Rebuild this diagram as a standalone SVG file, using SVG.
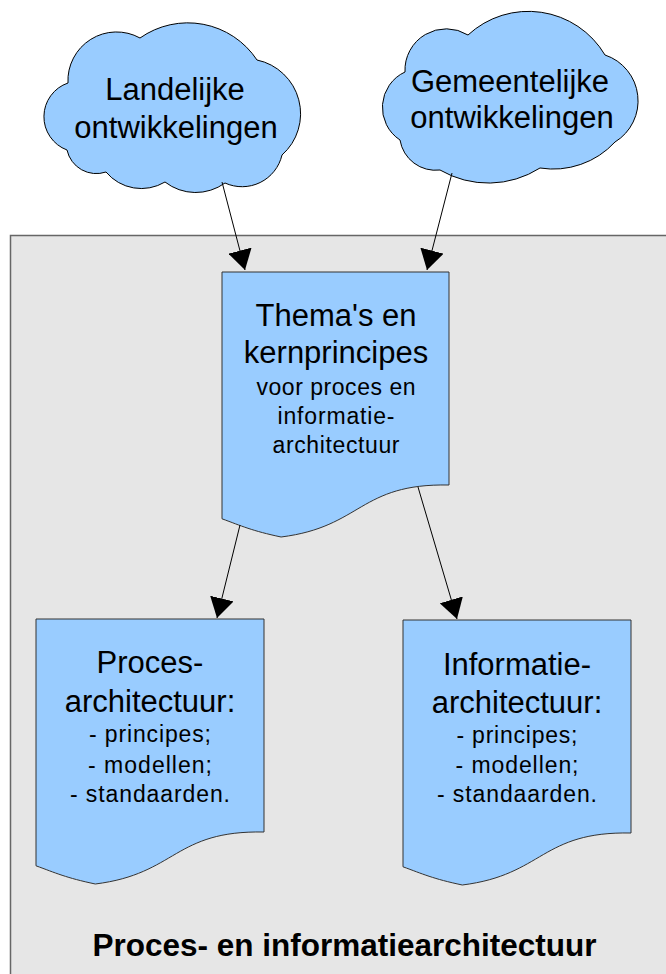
<svg xmlns="http://www.w3.org/2000/svg" width="666" height="974" viewBox="0 0 666 974">
<defs>
<style>
.cloud{fill:#99ccff;stroke:#000;stroke-width:1}
.doc{fill:#99ccff;stroke:#333;stroke-width:1}
.big{font-family:"Liberation Sans",Arial,sans-serif;font-size:31px;fill:#000;text-anchor:middle}
.small{font-family:"Liberation Sans",Arial,sans-serif;font-size:23px;fill:#000;text-anchor:middle}
.title{font-family:"Liberation Sans",Arial,sans-serif;font-size:31.5px;font-weight:bold;fill:#000;text-anchor:middle}
.conn{stroke:#000;stroke-width:1;fill:none;marker-end:url(#arrow)}
</style>
<marker id="arrow" viewBox="0 0 20 24" refX="20" refY="12" markerWidth="20" markerHeight="24" markerUnits="userSpaceOnUse" orient="auto">
<path d="M0,0 L20,12 L0,24 Z" fill="#000"/>
</marker>
</defs>
<g id="container">
<rect x="10.5" y="235.5" width="700" height="800" fill="#e6e6e6" stroke="#666" stroke-width="1.5"/>
<text class="title" x="344.5" y="956">Proces- en informatiearchitectuur</text>
</g>
<g id="cloud-landelijk">
<path class="cloud" d="M68,83 A48.6,48.6 0 0 1 140,38 A83,83 0 0 1 257,60 A55,55 0 0 1 282,155 A41,41 0 0 1 225,183 A50,50 0 0 1 165,182 A46,46 0 0 1 106,172 A30,30 0 0 1 67,150 A35.6,35.6 0 0 1 68,83 Z"/>
<text class="big" x="175" y="100">Landelijke</text>
<text class="big" x="176" y="138">ontwikkelingen</text>
</g>
<g id="cloud-gemeentelijk">
<path class="cloud" d="M405,72 A41.3,41.3 0 0 1 468,35 A89,89 0 0 1 605,55 A48.3,48.3 0 0 1 615,142 A84,84 0 0 1 540,168 A96,96 0 0 1 440,170 A36,36 0 0 1 400,140 A39,39 0 0 1 405,72 Z"/>
<text class="big" x="510" y="92">Gemeentelijke</text>
<text class="big" x="512" y="128">ontwikkelingen</text>
</g>
<g id="thema">
<path class="doc" d="M222,272 H449 V485 C359.2,483.3 362.2,526.8 281.1,537 C252.1,530.9 241.4,525.9 222,518.8 Z"/>
<text class="big" x="336" y="326">Thema's en</text>
<text class="big" x="336" y="363">kernprincipes</text>
<text class="small" x="336" y="395" textLength="159" lengthAdjust="spacing">voor proces en</text>
<text class="small" x="336" y="424" textLength="117" lengthAdjust="spacing">informatie-</text>
<text class="small" x="336" y="453" textLength="127" lengthAdjust="spacing">architectuur</text>
</g>
<g id="proces">
<path class="doc" d="M36,619 H264 V832 C173.8,830.3 176.8,873.8 95.3,884 C66.2,877.9 55.5,872.9 36,865.8 Z"/>
<text class="big" x="150" y="673">Proces-</text>
<text class="big" x="150" y="712">architectuur:</text>
<text class="small" x="150" y="742" textLength="122" lengthAdjust="spacing">- principes;</text>
<text class="small" x="150" y="773" textLength="124" lengthAdjust="spacing">- modellen;</text>
<text class="small" x="150" y="802" textLength="160" lengthAdjust="spacing">- standaarden.</text>
</g>
<g id="informatie">
<path class="doc" d="M403,620 H631 V833 C540.8,831.3 543.8,874.8 462.3,885 C433.2,878.9 422.5,873.9 403,866.8 Z"/>
<text class="big" x="517" y="675">Informatie-</text>
<text class="big" x="517" y="713">architectuur:</text>
<text class="small" x="517" y="743" textLength="121" lengthAdjust="spacing">- principes;</text>
<text class="small" x="517" y="773" textLength="123" lengthAdjust="spacing">- modellen;</text>
<text class="small" x="517" y="802" textLength="160" lengthAdjust="spacing">- standaarden.</text>
</g>
<g id="connectors">
<line class="conn" x1="222" y1="182" x2="245" y2="270"/>
<line class="conn" x1="452" y1="173" x2="427" y2="270"/>
<line class="conn" x1="240" y1="525" x2="217" y2="618"/>
<line class="conn" x1="418" y1="487" x2="457" y2="619"/>
</g>
</svg>
